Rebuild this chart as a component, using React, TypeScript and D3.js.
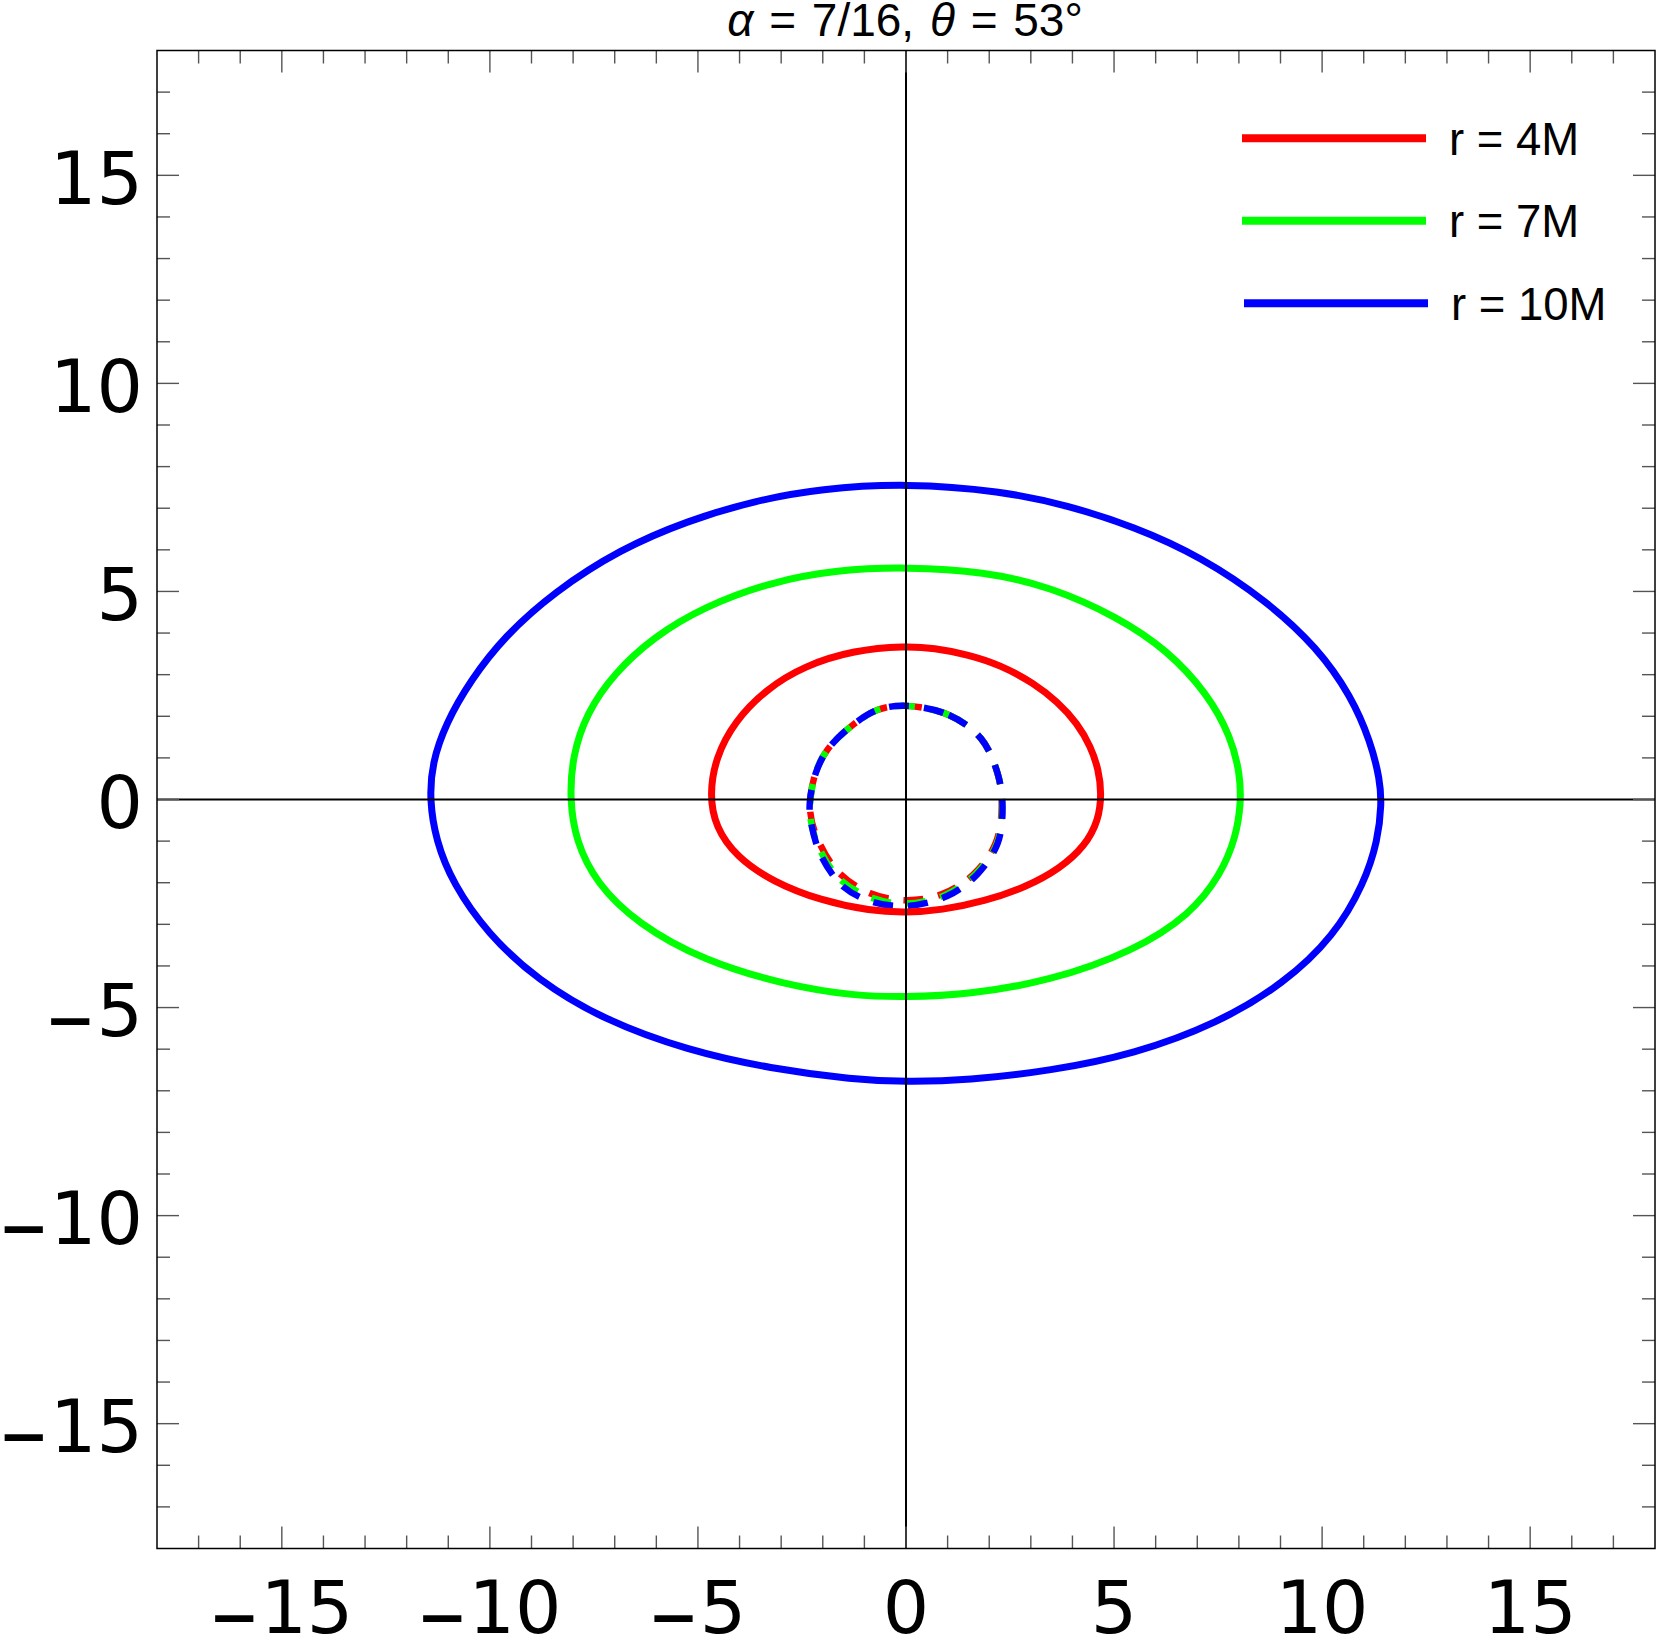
import React from "react";
import * as d3 from "d3";

// ---- data ----
const xDomain: [number, number] = [-18, 18];
const yDomain: [number, number] = [-18, 18];
const majorTicks = [-15, -10, -5, 0, 5, 10, 15];
const minorTicks = d3.range(-17, 18);

const seriesLabels = ["r = 4M", "r = 7M", "r = 10M"];
const seriesColors = ["#ff0000", "#00ff00", "#0000ff"];

const redSolid: [number, number][] = [
  [0, 3.69], [0.67, 3.64], [1.47, 3.49], [2.28, 3.23], [3.08, 2.79], [3.64, 2.35], [4.12, 1.83],
  [4.44, 1.27], [4.63, 0.71], [4.7, 0.15], [4.63, -0.5], [4.3, -1.12], [3.7, -1.66],
  [2.9, -2.1], [1.88, -2.45], [0.85, -2.66], [0, -2.72], [-0.85, -2.68], [-2.05, -2.43],
  [-3.2, -1.98], [-4.08, -1.38], [-4.58, -0.66], [-4.72, 0.1], [-4.58, 1.0], [-4.12, 1.88],
  [-3.35, 2.66], [-2.45, 3.21], [-1.25, 3.59],
];

const greenSolid: [number, number][] = [
  [0, 5.59], [1.88, 5.48], [3.48, 5.11], [5.08, 4.39], [6.28, 3.59], [7.24, 2.55], [7.81, 1.51],
  [8.03, 0.6], [8.05, -0.1], [7.93, -0.9], [7.57, -1.8], [6.84, -2.76], [5.48, -3.64],
  [3.48, -4.36], [1.48, -4.69], [0, -4.75], [-1.25, -4.72], [-2.85, -4.47], [-4.86, -3.88],
  [-6.46, -2.98], [-7.44, -2.02], [-7.94, -0.98], [-8.08, 0], [-8.02, 1.03], [-7.68, 2.07],
  [-7.02, 3.03], [-6.06, 3.91], [-4.86, 4.63], [-3.25, 5.23], [-1.65, 5.52],
];

const blueSolid: [number, number][] = [
  [0, 7.6], [2.28, 7.42], [3.88, 7.07], [5.48, 6.56], [7.08, 5.84], [8.69, 4.76], [9.89, 3.64],
  [10.69, 2.5], [11.17, 1.38], [11.39, 0.47], [11.43, -0.1], [11.34, -0.98], [11.01, -2.02],
  [10.29, -3.28], [9.09, -4.42], [7.49, -5.38], [5.48, -6.12], [3.48, -6.52], [1.48, -6.75],
  [0, -6.79], [-1.25, -6.73], [-3.25, -6.47], [-5.25, -6.03], [-7.26, -5.3], [-8.86, -4.34],
  [-10.06, -3.22], [-10.89, -2.02], [-11.3, -0.98], [-11.45, 0], [-11.39, 0.87],
  [-11.06, 1.83], [-10.46, 2.87], [-9.66, 3.91], [-8.46, 4.99], [-6.86, 6.02], [-5.25, 6.7],
  [-3.65, 7.18], [-2.05, 7.47],
];

const redDashed: [number, number][] = [
  [0, 2.25], [1.03, 2.03], [1.8, 1.47], [2.2, 0.63], [2.3, -0.18], [2.15, -1.06], [1.62, -1.8],
  [0.85, -2.28], [0, -2.42], [-0.87, -2.25], [-1.62, -1.75], [-2.1, -1.0], [-2.3, -0.3],
  [-2.2, 0.55], [-1.89, 1.19], [-1.33, 1.75], [-0.69, 2.15],
];

const greenDashed: [number, number][] = [
  [0, 2.25], [1.03, 2.03], [1.8, 1.47], [2.2, 0.63], [2.31, -0.18], [2.18, -1.06], [1.67, -1.79],
  [0.93, -2.3], [0, -2.5], [-0.8, -2.37], [-1.55, -1.95], [-2.07, -1.2], [-2.3, -0.4],
  [-2.19, 0.58], [-1.89, 1.19], [-1.33, 1.75], [-0.69, 2.15],
];

const blueDashed: [number, number][] = [
  [0, 2.25], [1.03, 2.03], [1.8, 1.47], [2.2, 0.63], [2.32, -0.18], [2.2, -1.06], [1.71, -1.8],
  [0.99, -2.32], [0, -2.56], [-0.8, -2.46], [-1.5, -2.1], [-2.05, -1.33], [-2.29, -0.5],
  [-2.31, -0.05], [-2.17, 0.63], [-1.89, 1.19], [-1.33, 1.75], [-0.69, 2.15],
];

const solidSeries = [redSolid, greenSolid, blueSolid];
const dashedSeries = [redDashed, greenDashed, blueDashed];

const titleParts = [
  { t: "α", italic: true },
  { t: " = 7/16, ", italic: false },
  { t: "θ", italic: true },
  { t: " = 53°", italic: false },
];

// ---- layout ----
const W = 1661;
const H = 1642;
const plot = { left: 157, right: 1655, top: 50.5, bottom: 1548.5 };

export default function App() {
  const x = d3.scaleLinear().domain(xDomain).range([plot.left, plot.right]);
  const y = d3.scaleLinear().domain(yDomain).range([plot.bottom, plot.top]);
  const smooth = d3
    .line<[number, number]>()
    .x((d) => x(d[0]))
    .y((d) => y(d[1]))
    .curve(d3.curveBasisClosed);
  const dashedLine = d3
    .line<[number, number]>()
    .x((d) => x(d[0]))
    .y((d) => y(d[1]))
    .curve(d3.curveCatmullRomClosed.alpha(0.5));

  const tickColor = "#555";
  const majorLen = 22;
  const minorLen = 13;
  const labelFont = "'DejaVu Sans', sans-serif";
  const textFont = "'Liberation Sans', Arial, sans-serif";

  const fmt = (v: number) =>
    v < 0 ? (
      <>
        <tspan fontSize={95} dy={12}>
          {"–"}
        </tspan>
        <tspan dx={2.5} dy={-12}>
          {String(-v)}
        </tspan>
      </>
    ) : (
      String(v)
    );

  return (
    <div style={{ position: "absolute", left: 0, top: 0 }}>
      <svg width={W} height={H} viewBox={`0 0 ${W} ${H}`} style={{ display: "block", background: "#fff" }}>
        <rect x={0} y={0} width={W} height={H} fill="#fff" />

        {/* dashed inner curves */}
        {dashedSeries.map((s, i) => (
          <path
            key={"d" + i}
            d={dashedLine(s) || ""}
            fill="none"
            stroke={seriesColors[i]}
            strokeWidth={6.5}
            strokeDasharray="20 15"
          />
        ))}

        {/* solid curves */}
        {solidSeries.map((s, i) => (
          <path key={"s" + i} d={smooth(s) || ""} fill="none" stroke={seriesColors[i]} strokeWidth={7} />
        ))}

        {/* axis lines through origin */}
        <line x1={x(0)} x2={x(0)} y1={plot.top} y2={plot.bottom} stroke="#000" strokeWidth={2} />
        <line x1={plot.left} x2={plot.right} y1={y(0)} y2={y(0)} stroke="#000" strokeWidth={2} />

        {/* ticks */}
        {minorTicks.map((t) => {
          const len = t % 5 === 0 ? majorLen : minorLen;
          const px = x(t);
          const py = y(t);
          return (
            <g key={"t" + t} stroke={tickColor} strokeWidth={1.4}>
              <line x1={px} x2={px} y1={plot.bottom} y2={plot.bottom - len} />
              <line x1={px} x2={px} y1={plot.top} y2={plot.top + len} />
              <line x1={plot.left} x2={plot.left + len} y1={py} y2={py} />
              <line x1={plot.right} x2={plot.right - len} y1={py} y2={py} />
            </g>
          );
        })}

        {/* frame */}
        <rect
          x={plot.left}
          y={plot.top}
          width={plot.right - plot.left}
          height={plot.bottom - plot.top}
          fill="none"
          stroke="#000"
          strokeWidth={1.5}
        />

        {/* tick labels */}
        {majorTicks.map((t) => (
          <text
            key={"xl" + t}
            x={x(t)}
            y={1633}
            fontFamily={labelFont}
            fontSize={73}
            textAnchor="middle"
            fill="#000"
          >
            {fmt(t)}
          </text>
        ))}
        {majorTicks.map((t) => (
          <text
            key={"yl" + t}
            x={143}
            y={y(t) + 28.5}
            fontFamily={labelFont}
            fontSize={73}
            textAnchor="end"
            fill="#000"
          >
            {fmt(t)}
          </text>
        ))}

        {/* title */}
        <text
          x={905}
          y={36}
          fontFamily={textFont}
          fontSize={46}
          wordSpacing={3}
          textAnchor="middle"
          fill="#000"
        >
          {titleParts.map((p, i) => (
            <tspan key={i} fontStyle={p.italic ? "italic" : "normal"}>
              {p.t}
            </tspan>
          ))}
        </text>

        {/* legend */}
        {seriesLabels.map((lab, i) => {
          const ly = 138.3 + i * 82.5;
          const dx = i === 2 ? 2 : 0;
          return (
            <g key={"lg" + i}>
              <line x1={1242 + dx} x2={1426 + dx} y1={ly} y2={ly} stroke={seriesColors[i]} strokeWidth={8} />
              <text x={1449 + dx} y={ly + 16.5} fontFamily={textFont} fontSize={45.5} fill="#000">
                {lab}
              </text>
            </g>
          );
        })}
      </svg>
    </div>
  );
}
